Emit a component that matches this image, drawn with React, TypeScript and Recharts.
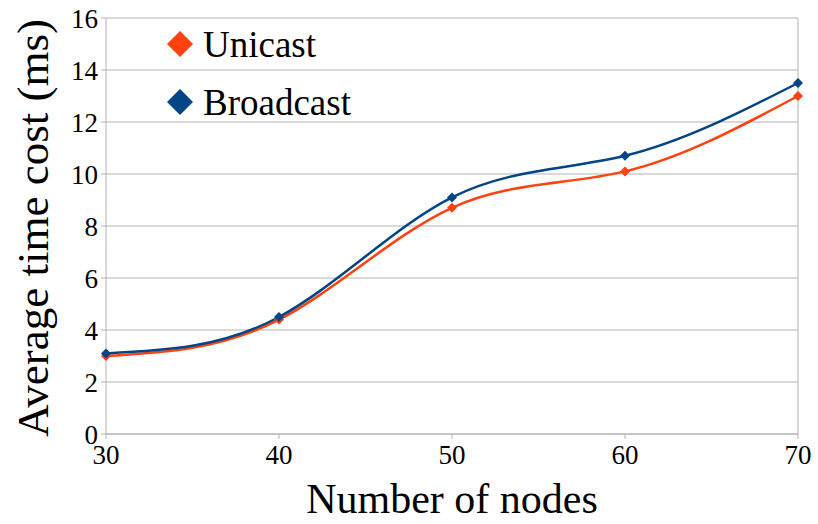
import { LineChart, Line, XAxis, YAxis, CartesianGrid, Legend, ReferenceLine, Label } from 'recharts';

const nodes = [30, 40, 50, 60, 70];
const unicast = [3.0, 4.4, 8.7, 10.1, 13.0];
const broadcast = [3.1, 4.5, 9.1, 10.7, 13.5];
const yTicks = [0, 2, 4, 6, 8, 10, 12, 14, 16];

const data = nodes.map((n, i) => ({ nodes: n, unicast: unicast[i], broadcast: broadcast[i] }));

const FONT = '"Liberation Serif", "Times New Roman", serif';
const GRID = '#b3b3b3';
const ORANGE = '#ff420e';
const BLUE = '#004586';

const series = [
  { key: 'unicast', name: 'Unicast', color: ORANGE },
  { key: 'broadcast', name: 'Broadcast', color: BLUE },
];

function Diamond({ cx, cy, fill, r = 5 }: { cx?: number; cy?: number; fill: string; r?: number }) {
  if (cx == null || cy == null) return null;
  return <polygon points={`${cx},${cy - r} ${cx + r},${cy} ${cx},${cy + r} ${cx - r},${cy}`} fill={fill} />;
}

function LegendBox() {
  return (
    <div style={{ fontFamily: FONT, fontSize: 37, color: '#000' }}>
      {series.map((s) => (
        <div key={s.key} style={{ display: 'flex', alignItems: 'center', height: 58 }}>
          <svg width={28} height={28} style={{ marginRight: 9 }}>
            <polygon points="14,1 27,14 14,27 1,14" fill={s.color} />
          </svg>
          <span>{s.name}</span>
        </div>
      ))}
    </div>
  );
}

export default function App() {
  return (
    <div style={{ position: 'absolute', left: 0, top: 0, background: '#fff' }}>
      <LineChart width={818} height={524} data={data} margin={{ top: 18, right: 20, left: 0, bottom: 0 }}>
        <CartesianGrid vertical={false} stroke={GRID} />
        <ReferenceLine x={70} stroke={GRID} />
        <XAxis
          dataKey="nodes"
          type="number"
          domain={[30, 70]}
          ticks={nodes}
          height={90}
          stroke={GRID}
          tickSize={5}
          tickMargin={6}
          tick={{ fill: '#000', fontSize: 27, fontFamily: FONT }}
        >
          <Label
            value="Number of nodes"
            position="insideBottom"
            offset={11}
            style={{ fill: '#000', fontSize: 42, fontFamily: FONT }}
          />
        </XAxis>
        <YAxis
          domain={[0, 16]}
          ticks={yTicks}
          width={106}
          stroke={GRID}
          tickSize={5}
          tickMargin={3}
          tick={{ fill: '#000', fontSize: 27, fontFamily: FONT }}
        >
          <Label
            content={(props: any) => {
              const vb = props.viewBox || {};
              const cx = 33;
              const cy = (vb.y ?? 18) + (vb.height ?? 416) / 2 + 2;
              return (
                <text
                  x={cx}
                  y={cy}
                  transform={`rotate(-90 ${cx} ${cy})`}
                  textAnchor="middle"
                  dominantBaseline="central"
                  fill="#000"
                  fontSize={45}
                  fontFamily={FONT}
                >
                  Average time cost (ms)
                </text>
              );
            }}
          />
        </YAxis>
        <Legend
          layout="horizontal"
          verticalAlign="middle"
          align="center"
          content={() => <LegendBox />}
          wrapperStyle={{ position: 'absolute', left: 166, top: 15, width: 'auto', height: 'auto' }}
        />
        {series.map((s) => (
          <Line
            key={s.key}
            type="natural"
            dataKey={s.key}
            name={s.name}
            stroke={s.color}
            strokeWidth={2.5}
            dot={(p: any) => <Diamond key={`${s.key}-${p.index}`} cx={p.cx} cy={p.cy} fill={s.color} />}
            activeDot={false}
            isAnimationActive={false}
          />
        ))}
      </LineChart>
    </div>
  );
}
